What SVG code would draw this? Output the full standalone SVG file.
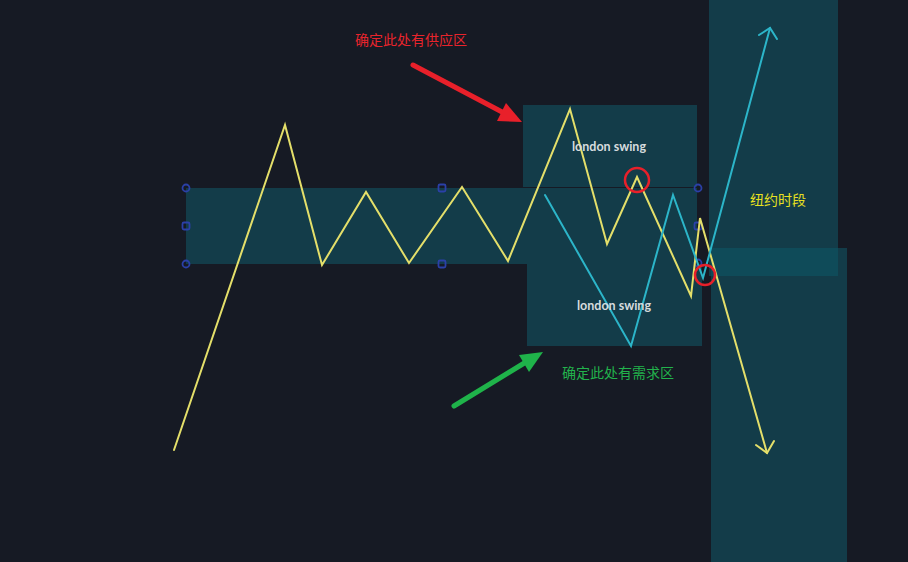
<svg xmlns="http://www.w3.org/2000/svg" width="908" height="562" viewBox="0 0 908 562">
  <defs>
    <style>
      .zone { fill: #133c49; }
      .zoneHi { fill: #0f4b59; }
      .yl { fill: none; stroke: #e4df6a; stroke-width: 2; stroke-linejoin: miter; stroke-linecap: round; }
      .cy { fill: none; stroke: #2cb5c9; stroke-width: 2; stroke-linejoin: miter; stroke-linecap: round; }
      .handle { fill: none; stroke: #2b40a8; stroke-width: 1.8; }
      .ring { fill: none; stroke: #e8202a; stroke-width: 2.5; }
      .swing { font-family: Lato, "Open Sans", sans-serif; font-weight: bold; font-size: 12.5px; fill: #d6dbde; text-anchor: middle; }
      .cn { font-family: "Noto Sans CJK SC", sans-serif; font-size: 14px; }
    </style>
  </defs>
  <rect x="0" y="0" width="908" height="562" fill="#161a24"/>

  <g id="zones">
    <rect id="band" class="zone" x="186" y="188" width="511" height="76"/>
    <rect id="supply-box" class="zone" x="523" y="105" width="174" height="82"/>
    <rect id="demand-box" class="zone" x="527" y="264" width="175" height="82"/>
    <rect id="ny-upper" class="zone" x="709" y="0" width="129" height="276"/>
    <rect id="ny-lower" class="zone" x="711" y="248" width="136" height="314"/>
    <rect id="ny-overlap" class="zoneHi" x="711" y="248" width="127" height="28"/>
  </g>

  <g id="handles">
    <circle class="handle" cx="186" cy="188" r="3.5"/>
    <rect class="handle" x="182.5" y="222.5" width="7" height="7" rx="1.5"/>
    <circle class="handle" cx="186" cy="264" r="3.5"/>
    <rect class="handle" x="438.5" y="184.5" width="7" height="7" rx="1.5"/>
    <rect class="handle" x="438.5" y="260.5" width="7" height="7" rx="1.5"/>
    <circle class="handle" cx="698" cy="188" r="3.5"/>
    <rect class="handle" x="694.5" y="222.5" width="7" height="7" rx="1.5"/>
    <circle class="handle" cx="698" cy="263" r="3.5"/>
  </g>

  <g id="connectors">
    <polyline id="yellow-path" class="yl" points="174,450 285,125 322,265 366,192 409,263 462,187 508,261 570,109 607,244 637,177 691,296 700,218 767,453"/>
    <polyline class="yl" points="756,445 767,453 774,441"/>
    <polyline id="cyan-path" class="cy" points="545,195 631,346 673,195 703,278 770,28"/>
    <polyline class="cy" points="759,35 770,28 777,39"/>
    <g id="red-arrow">
      <line x1="413" y1="65" x2="504" y2="113" stroke="#e8202a" stroke-width="5" stroke-linecap="round"/>
      <polygon points="522,122 497,121 506,103" fill="#e8202a"/>
    </g>
    <g id="green-arrow">
      <line x1="454" y1="406" x2="526" y2="362" stroke="#1fb34a" stroke-width="5" stroke-linecap="round"/>
      <polygon points="543,352 529,372 519,355" fill="#1fb34a"/>
    </g>
  </g>

  <g id="markers">
    <circle class="ring" cx="637" cy="180" r="12"/>
    <circle class="ring" cx="705" cy="275" r="10"/>
  </g>

  <g id="labels">
    <text class="swing" x="609" y="151">london swing</text>
    <text class="swing" x="614" y="310">london swing</text>
    <text class="cn" x="355" y="45" fill="#e8242c">确定此处有供应区</text>
    <text class="cn" x="562" y="378" fill="#22b34c">确定此处有需求区</text>
    <text class="cn" x="750" y="205" fill="#e8e020">纽约时段</text>
  </g>
</svg>
